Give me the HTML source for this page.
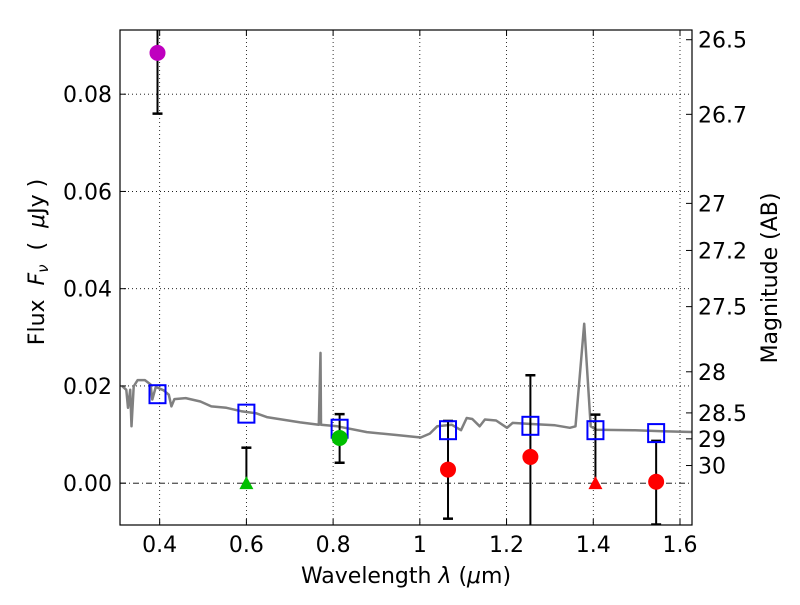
<!DOCTYPE html>
<html><head><meta charset="utf-8"><style>
body{margin:0;background:#fff;}
svg text{font-family:"DejaVu Sans","Liberation Sans",sans-serif;}
</style></head><body>
<svg id="chart" width="800" height="600" xmlns="http://www.w3.org/2000/svg">
<rect width="800" height="600" fill="#fff"/>
<defs><clipPath id="clip"><rect x="120" y="30" width="572" height="495"/></clipPath></defs>
<g id="grid"></g>
<g id="marks" clip-path="url(#clip)"></g>
<rect x="120" y="30" width="572" height="495" fill="none" stroke="#000" stroke-width="1.2"/>
<g id="axes"></g>
<text x="406" y="583" font-size="22" text-anchor="middle">Wavelength  <tspan font-style="italic">λ</tspan> (<tspan font-style="italic">μ</tspan>m)</text>
<text transform="translate(44,262) rotate(-90)" font-size="22" text-anchor="middle" xml:space="preserve">Flux  <tspan font-style="italic">F<tspan font-size="15" dy="4">ν</tspan></tspan><tspan dy="-4">  (  </tspan><tspan font-style="italic">μ</tspan>Jy )</text>
<text transform="translate(777,278) rotate(-90)" font-size="22" text-anchor="middle">Magnitude (AB)</text>
</svg>
<script>
const xTicks=[0.4,0.6,0.8,1.0,1.2,1.4,1.6];
const xTickLabels=["0.4","0.6","0.8","1","1.2","1.4","1.6"];
const yTicks=[0,0.02,0.04,0.06,0.08];
const yTickLabels=["0.00","0.02","0.04","0.06","0.08"];
const magTicks=[26.5,26.7,27,27.2,27.5,28,28.5,29,30];
const modelLam=[0.313,0.323,0.327,0.332,0.335,0.340,0.349,0.366,0.379,0.383,0.391,0.409,0.421,0.427,0.434,0.460,0.494,0.519,0.554,0.588,0.622,0.647,0.682,0.724,0.767,0.771,0.772,0.810,0.878,0.946,1.002,1.023,1.040,1.074,1.095,1.108,1.121,1.138,1.150,1.176,1.201,1.214,1.252,1.312,1.346,1.359,1.379,1.394,1.407,1.492,1.560,1.633];
const modelFlux=[0.0200,0.0192,0.0155,0.0192,0.0117,0.0199,0.0212,0.0212,0.0203,0.0172,0.0198,0.0191,0.0182,0.0158,0.0173,0.0175,0.0168,0.0158,0.0155,0.0148,0.0144,0.0136,0.0131,0.0125,0.0120,0.0268,0.0120,0.0117,0.0105,0.0099,0.0094,0.0102,0.0117,0.0120,0.0109,0.0134,0.0132,0.0117,0.0131,0.0129,0.0114,0.0124,0.0122,0.0119,0.0114,0.0117,0.0328,0.0117,0.0110,0.0109,0.0107,0.0105];
const modelPhotLam=[0.395,0.6,0.815,1.065,1.255,1.405,1.545];
const modelPhotFlux=[0.0183,0.0143,0.0112,0.0109,0.0118,0.0109,0.0103];
const obsLam=[0.395,0.6,0.815,1.065,1.255,1.405,1.545];
const obsFlux=[0.0885,0,0.0093,0.0028,0.0054,0,0.0003];
const obsErrLo=[0.0760,0,0.0042,-0.0073,-0.0120,0,-0.0085];
const obsErrHi=[0.1000,0.0073,0.0142,0.0128,0.0222,0.0141,0.0087];
const obsColor=["#bf00bf","#00bf00","#00bf00","#ff0000","#ff0000","#ff0000","#ff0000"];
const obsUpperLimit=[false,true,false,false,false,true,false];

const X0=120,X1=692,Y0=30,Y1=525,xmin=0.3085,xmax=1.6277,ymin=-0.0086,ymax=0.0932;
const sx=v=>X0+(v-xmin)/(xmax-xmin)*(X1-X0);
const sy=v=>Y1-(v-ymin)/(ymax-ymin)*(Y1-Y0);
const NS="http://www.w3.org/2000/svg";
function mk(tag,attrs,parent,txt){const e=document.createElementNS(NS,tag);for(const k in attrs)e.setAttribute(k,attrs[k]);if(txt!==undefined)e.textContent=txt;parent.appendChild(e);return e;}
const grid=document.getElementById('grid'),marks=document.getElementById('marks'),axes=document.getElementById('axes');
xTicks.forEach((t,i)=>{const x=sx(t);
 let g=mk('line',{x1:x,x2:x,y1:Y0,y2:Y1,stroke:'#000','stroke-width':0.8,'stroke-dasharray':'1,3'},grid);
 
 mk('line',{x1:x,x2:x,y1:Y1,y2:Y1-6,stroke:'#000'},axes);mk('line',{x1:x,x2:x,y1:Y0,y2:Y0+6,stroke:'#000'},axes);
 let l=mk('text',{x:x,y:Y1+27,'font-size':22,'text-anchor':'middle'},axes,xTickLabels[i]);
 });
yTicks.forEach((t,i)=>{const y=sy(t);
 let g=mk('line',{x1:X0,x2:X1,y1:y,y2:y,stroke:'#000','stroke-width':0.8,'stroke-dasharray':t===0?'6,3,1,3':'1,3'},grid);
 
 mk('line',{x1:X0,x2:X0+6,y1:y,y2:y,stroke:'#000'},axes);
 let l=mk('text',{x:X0-8,y:y+8,'font-size':22,'text-anchor':'end'},axes,yTickLabels[i]);
 });
magTicks.forEach(m=>{const f=Math.pow(10,(23.9-m)/2.5);const y=sy(f);
 mk('line',{x1:X1,x2:X1-6,y1:y,y2:y,stroke:'#000'},axes);
 let l=mk('text',{x:X1+6,y:y+8,'font-size':22},axes,String(m));
 });
const pts=modelLam.map((l,i)=>sx(l).toFixed(1)+','+sy(modelFlux[i]).toFixed(1)).join(' ');
let pl=mk('polyline',{points:pts,fill:'none',stroke:'#808080','stroke-width':2.5,'stroke-linejoin':'round'},marks);

obsLam.forEach((l,i)=>{const x=sx(l);
 let e=mk('line',{x1:x,x2:x,y1:sy(obsErrLo[i]),y2:sy(obsErrHi[i]),stroke:'#000','stroke-width':2},marks);
 
 [obsErrLo[i],obsErrHi[i]].forEach(v=>{if(obsUpperLimit[i]&&v===0)return;mk('line',{x1:x-5,x2:x+5,y1:sy(v),y2:sy(v),stroke:'#000','stroke-width':2.5},marks);});});
modelPhotLam.forEach((l,i)=>{const x=sx(l),y=sy(modelPhotFlux[i]);
 let r=mk('rect',{x:x-8,y:y-9,width:16,height:18,fill:'none',stroke:'#0000ff','stroke-width':2},marks);
 });
obsLam.forEach((l,i)=>{const x=sx(l),y=sy(obsFlux[i]);let m;
 if(obsUpperLimit[i]){m=mk('polygon',{points:`${x-7},${y+6} ${x+7},${y+6} ${x},${y-7}`,fill:obsColor[i]},marks);}
 else{m=mk('circle',{cx:x,cy:y,r:8,fill:obsColor[i]},marks);}
 });
</script>
</body></html>
